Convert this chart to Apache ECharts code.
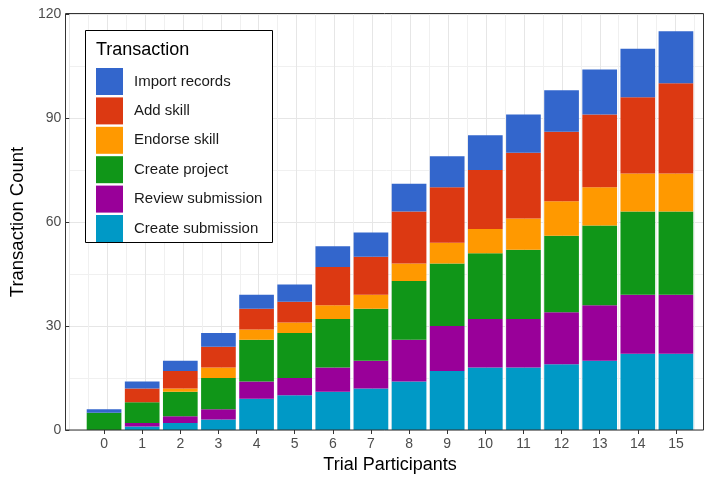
<!DOCTYPE html>
<html>
<head>
<meta charset="utf-8">
<script src="https://cdn.jsdelivr.net/npm/echarts@6/dist/echarts.min.js"></script>
<style>html,body{margin:0;padding:0;background:#fff}#c{width:704px;height:479px}</style>
</head>
<body>
<div id="c"></div>
<script>
const participants = ["0","1","2","3","4","5","6","7","8","9","10","11","12","13","14","15"];
const seriesNames = ["Create submission","Review submission","Create project","Endorse skill","Add skill","Import records"];
const createSubmission = [0,1,2,3,9,10,11,12,14,17,18,18,19,20,22,22];
const reviewSubmission = [0,1,2,3,5,5,7,8,12,13,14,14,15,16,17,17];
const createProject    = [5,6,7,9,12,13,14,15,17,18,19,20,22,23,24,24];
const endorseSkill     = [0,0,1,3,3,3,4,4,5,6,7,9,10,11,11,11];
const addSkill         = [0,4,5,6,6,6,11,11,15,16,17,19,20,21,22,26];
const importRecords    = [1,2,3,4,4,5,6,7,8,9,10,11,12,13,14,15];
const yTicks = [0,30,60,90,120];

const values = [createSubmission, reviewSubmission, createProject, endorseSkill, addSkill, importRecords];
const colors = ["#0099C6","#990099","#109618","#FF9900","#DC3912","#3366CC"];
const FONT = "Liberation Sans";
const GRID = '#e6e6e6', MINOR = '#f0f0f0';

const chart = echarts.init(document.getElementById('c'));
chart.setOption({
  animation: false,
  textStyle: {fontFamily: FONT},
  grid: [
    {left: 66, right: 0, top: 14, bottom: 49, show: false},
    {left: 85, right: 9, top: 14, bottom: 49, show: false}
  ],
  xAxis: [
    {
      gridIndex: 0, type: 'value', min: -1, max: 15.75, interval: 1,
      axisLine: {show: false}, axisTick: {show: false}, axisLabel: {show: false},
      splitLine: {show: true, lineStyle: {color: GRID, width: 1}},
      minorTick: {show: false, splitNumber: 2},
      minorSplitLine: {show: true, lineStyle: {color: MINOR, width: 1}}
    },
    {
      gridIndex: 1, type: 'category', data: participants, boundaryGap: true,
      name: 'Trial Participants', nameLocation: 'middle', nameGap: 25,
      nameTextStyle: {fontSize: 18, color: '#000', fontFamily: FONT},
      axisLine: {show: false},
      axisTick: {show: true, alignWithLabel: true, length: 4, lineStyle: {color: '#333'}},
      axisLabel: {fontSize: 14, color: '#4d4d4d', margin: 7, fontFamily: FONT},
      splitLine: {show: false}
    }
  ],
  yAxis: [
    {
      gridIndex: 0, type: 'value', min: yTicks[0], max: yTicks[yTicks.length-1], interval: 30,
      name: 'Transaction Count', nameLocation: 'middle', nameGap: 40, nameRotate: 90,
      nameTextStyle: {fontSize: 18.5, color: '#000', fontFamily: FONT},
      axisLine: {show: false, onZero: false},
      axisTick: {show: true, length: 4, lineStyle: {color: '#333'}},
      axisLabel: {fontSize: 14, color: '#4d4d4d', margin: 8, fontFamily: FONT},
      splitLine: {show: true, lineStyle: {color: GRID, width: 1}},
      minorTick: {show: false, splitNumber: 2},
      minorSplitLine: {show: true, lineStyle: {color: MINOR, width: 1}}
    },
    {
      gridIndex: 1, type: 'value', min: yTicks[0], max: yTicks[yTicks.length-1], interval: 30,
      axisLine: {show: false}, axisTick: {show: false}, axisLabel: {show: false}, splitLine: {show: false}
    }
  ],
  legend: {
    orient: 'vertical', left: 96, top: 68, z: 10, padding: 0,
    data: seriesNames.slice().reverse(),
    icon: 'rect', itemWidth: 27, itemHeight: 27, itemGap: 2.4,
    textStyle: {fontSize: 15, color: '#1a1a1a', fontFamily: FONT, padding: [0,0,0,6]}
  },
  graphic: [
    {type: 'rect', shape: {x: 65.5, y: 13.5, width: 638, height: 416.5}, style: {fill: 'none', stroke: '#333', lineWidth: 1}, z: 8, silent: true},
    {type: 'rect', shape: {x: 85.5, y: 30.5, width: 187, height: 212}, style: {fill: '#fff', stroke: '#000', lineWidth: 1}, z: 5},
    {type: 'text', left: 96, top: 41, style: {text: 'Transaction', font: '18px "Liberation Sans"', fill: '#000'}, z: 6}
  ],
  series: seriesNames.map((n, k) => ({
    name: n, type: 'bar', stack: 'total', barWidth: '91%',
    xAxisIndex: 1, yAxisIndex: 1,
    itemStyle: {color: colors[k]},
    data: values[k],
    z: 2
  }))
});
</script>
</body>
</html>
